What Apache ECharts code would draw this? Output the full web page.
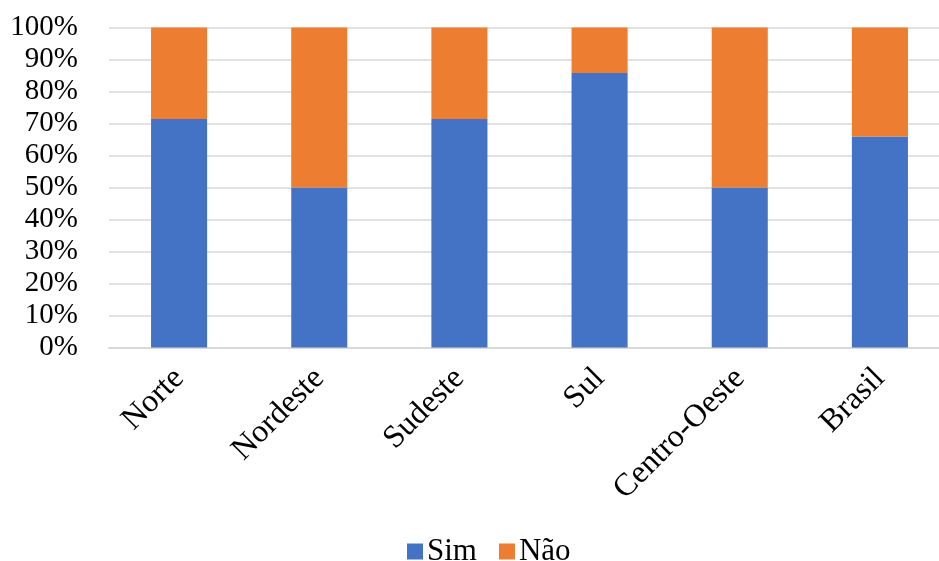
<!DOCTYPE html>
<html>
<head>
<meta charset="utf-8">
<script src="https://cdn.jsdelivr.net/npm/echarts@6/dist/echarts.min.js"></script>
<style>
  html, body { margin: 0; padding: 0; background: #fff; overflow: hidden; }
  /* the plot area runs slightly past the visible right edge */
  #chart { width: 950px; height: 561px; }
</style>
</head>
<body>
<div id="chart"></div>
<script>
// Regions and shares (percent) answering "Sim" / "Não"
const categories = ['Norte', 'Nordeste', 'Sudeste', 'Sul', 'Centro-Oeste', 'Brasil'];
const simValues = [71.4, 50.0, 71.4, 85.8, 50.0, 65.9];
const naoValues = [28.6, 50.0, 28.6, 14.2, 50.0, 34.1];
const yTicks = [0, 10, 20, 30, 40, 50, 60, 70, 80, 90, 100];

const FONT = '"Liberation Serif", "Times New Roman", serif';
const chart = echarts.init(document.getElementById('chart'), null, { renderer: 'canvas' });

chart.setOption({
  animation: false,
  textStyle: { fontFamily: FONT },
  grid: { left: 109, right: 0, top: 27.5, bottom: 213.5, containLabel: false },
  legend: {
    top: 531,
    left: 402,
    itemWidth: 16,
    itemHeight: 16,
    itemGap: 22,
    icon: 'rect',
    textStyle: { fontFamily: FONT, fontSize: 31, color: '#000', padding: [0, 0, 0, -1] },
    data: ['Sim', 'Não']
  },
  xAxis: {
    type: 'category',
    data: categories,
    axisLine: { lineStyle: { color: '#d9d9d9', width: 2 } },
    axisTick: { show: false },
    axisLabel: {
      rotate: 45,
      margin: 26,
      interval: 0,
      color: '#000',
      fontFamily: FONT,
      fontSize: 32
    }
  },
  yAxis: {
    type: 'value',
    min: yTicks[0],
    max: yTicks[yTicks.length - 1],
    interval: yTicks[1] - yTicks[0],
    axisLine: { show: false },
    axisTick: { show: false },
    splitLine: { lineStyle: { color: '#d9d9d9', width: 1.5 } },
    axisLabel: {
      formatter: '{value}%',
      color: '#000',
      fontFamily: FONT,
      fontSize: 29,
      margin: 31
    }
  },
  series: [
    {
      name: 'Sim',
      type: 'bar',
      stack: 'total',
      barWidth: '40%',
      itemStyle: { color: '#4472C4' },
      data: simValues
    },
    {
      name: 'Não',
      type: 'bar',
      stack: 'total',
      barWidth: '40%',
      itemStyle: { color: '#ED7D31' },
      data: naoValues
    }
  ]
});
</script>
</body>
</html>
